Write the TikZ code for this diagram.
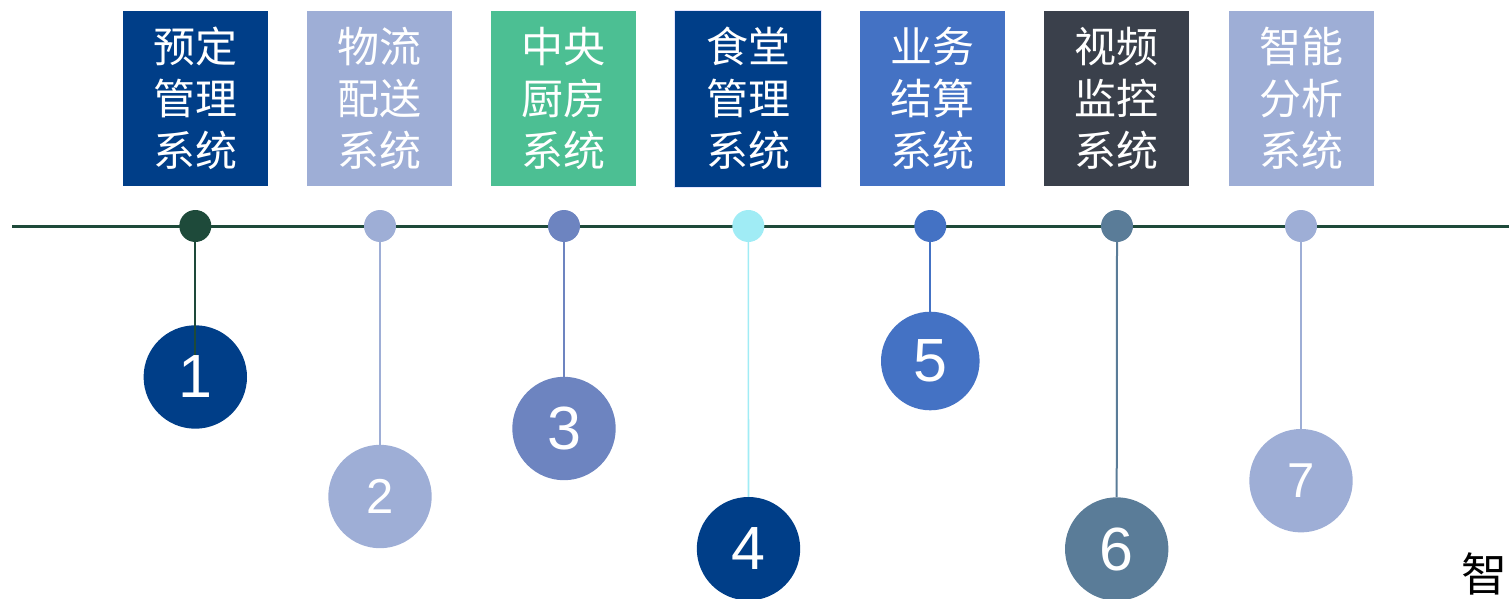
\documentclass[tikz,border=0pt]{standalone}
\usepackage{fontspec}
\setmainfont{Liberation Sans}
\newfontfamily\cjk{Noto Sans CJK SC}
\definecolor{lineGreen}{RGB}{30,74,58}
\definecolor{navy}{RGB}{0,62,136}
\definecolor{lav}{RGB}{158,174,214}
\definecolor{mint}{RGB}{76,191,147}
\definecolor{peri}{RGB}{109,132,192}
\definecolor{cyanL}{RGB}{160,236,245}
\definecolor{blueM}{RGB}{68,114,196}
\definecolor{slate}{RGB}{58,64,75}
\definecolor{steel}{RGB}{90,124,152}
\tikzset{
  sysbox/.style={minimum width=145pt, minimum height=175pt, inner sep=0pt, text=white,
    font=\cjk\fontsize{42}{52}\selectfont, align=center},
  dotc/.style={circle, minimum size=32pt, inner sep=0pt},
  bigc/.style={circle, minimum size=103.4pt, inner sep=0pt},
  numtxt/.style={text=white, inner sep=0pt, font=\fontsize{61}{61}\selectfont},
  numsmall/.style={text=white, inner sep=0pt, font=\fontsize{49}{49}\selectfont},
  stem/.style={line width=2pt}
}
\begin{document}
\begin{tikzpicture}[x=1pt,y=-1pt]
\useasboundingbox (0,0) rectangle (1509,599);
% boxes
\node[sysbox, fill=navy] (b1) at (195.3,98.4) {预定\\管理\\系统};
\node[sysbox, fill=lav] (b2) at (379.4,98.4) {物流\\配送\\系统};
\node[sysbox, fill=mint] (b3) at (563.5,98.4) {中央\\厨房\\系统};
\node[sysbox, fill=navy, draw=blue!10, line width=0.8pt, minimum width=147pt, minimum height=177pt] (b4) at (748.3,98.6) {食堂\\管理\\系统};
\node[sysbox, fill=blueM] (b5) at (932.5,98.4) {业务\\结算\\系统};
\node[sysbox, fill=slate] (b6) at (1116.5,98.4) {视频\\监控\\系统};
\node[sysbox, fill=lav] (b7) at (1301.4,98.4) {智能\\分析\\系统};
% timeline
\coordinate (tl0) at (12,226);
\coordinate (tl1) at (1509,226);
\draw[lineGreen, line width=3pt] (tl0) -- (tl1);
% dots
\node[dotc, fill=lineGreen] (d1) at (195.3,226) {};
\node[dotc, fill=lav] (d2) at (380,226) {};
\node[dotc, fill=peri] (d3) at (564,226) {};
\node[dotc, fill=cyanL] (d4) at (748.3,226) {};
\node[dotc, fill=blueM] (d5) at (930.3,226) {};
\node[dotc, fill=steel] (d6) at (1117,226) {};
\node[dotc, fill=lav] (d7) at (1301,226) {};
% big circles
\node[bigc, fill=navy] (c1) at (195.3,377) {};
\node[bigc, fill=lav] (c2) at (380,496.5) {};
\node[bigc, fill=peri] (c3) at (564,428.5) {};
\node[bigc, fill=navy] (c4) at (748.5,548.7) {};
\node[bigc, fill=blueM, minimum size=98.6pt] (c5) at (930.3,361) {};
\node[bigc, fill=steel] (c6) at (1116.7,549) {};
\node[bigc, fill=lav] (c7) at (1301,480.7) {};
% stems
\draw[stem, lineGreen] (d1.south) -- (c1.center);
\draw[stem, lav] (d2.south) -- (c2.north);
\draw[stem, peri] (d3.south) -- (c3.north);
\draw[line width=1.6pt, cyanL] (d4.south) -- (c4.north);
\draw[stem, blueM] (d5.south) -- (c5.north);
\draw[stem, steel] (d6.south) -- (c6.north);
\draw[stem, lav] (d7.south) -- (c7.north);
% numbers
\node[numtxt] (n1) at (c1) {1};
\node[numsmall] (n2) at (c2) {2};
\node[numtxt] (n3) at (c3) {3};
\node[numtxt] (n4) at (c4) {4};
\node[numtxt] (n5) at (c5) {5};
\node[numtxt] (n6) at (c6) {6};
\node[numsmall] (n7) at (c7) {7};
% stray character
\node[inner sep=0pt, anchor=north west, font=\cjk\fontsize{46}{46}\selectfont] (zh) at (1461,553) {智};
\end{tikzpicture}
\end{document}
